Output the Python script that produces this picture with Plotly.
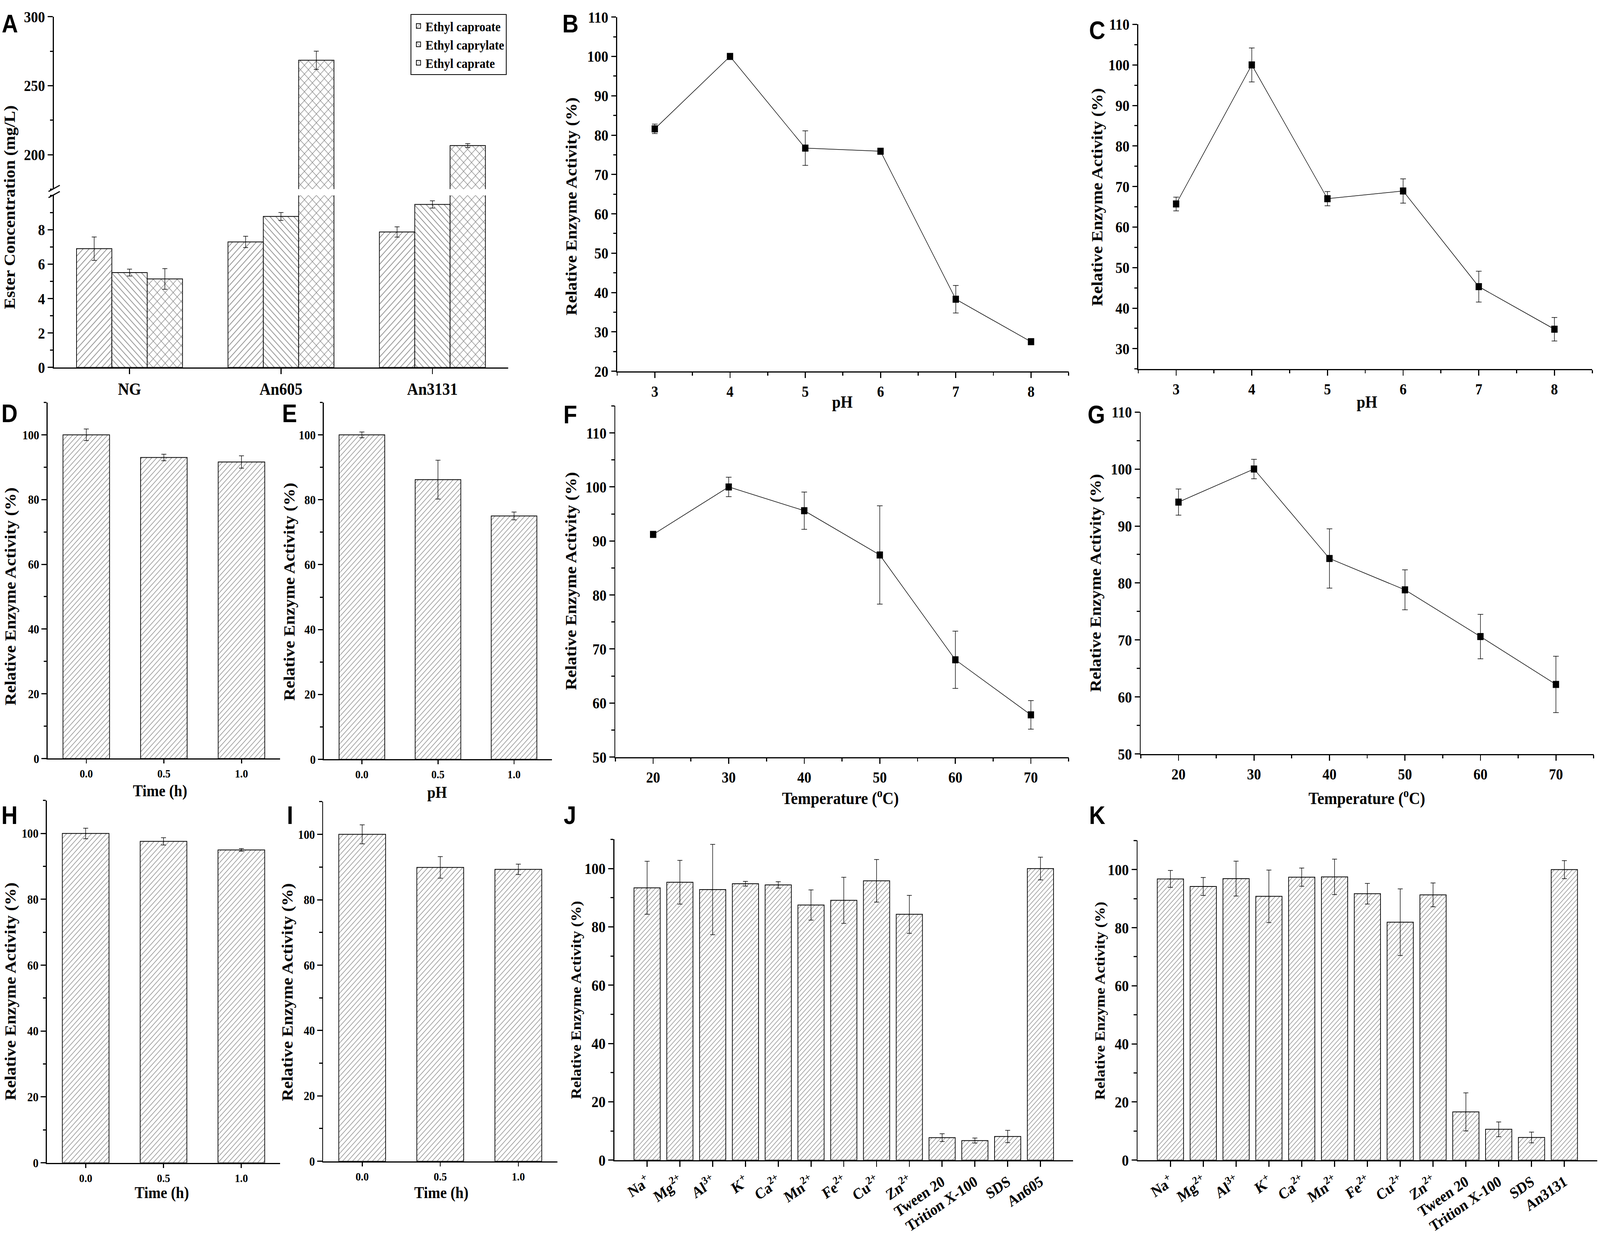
"""
Multi-panel figure: ester concentration and relative enzyme activity (A-K).
"""

import plotly.graph_objects as go

W, H = 4550, 3183
SERIF = "Liberation Serif"
SANS = "Liberation Sans"

# --- A: ester concentration (mg/L), broken y axis ---
a_groups = ["NG", "An605", "An3131"]
a_caproate = [6.90, 7.29, 7.87]
a_caproate_err = [0.68, 0.33, 0.30]
a_caprylate = [5.51, 8.77, 9.47]
a_caprylate_err = [0.20, 0.23, 0.21]
a_caprate = [5.14, 268.4, 206.6]
a_caprate_err = [0.60, 6.6, 1.4]
a_low_range = [0, 10]
a_high_range = [175, 300]

# --- B, C: pH profiles ---
ph = [3, 4, 5, 6, 7, 8]
b_act = [81.6, 100.0, 76.7, 75.9, 38.3, 27.5]
b_err = [1.2, 0.4, 4.4, 0.6, 3.5, 0.8]
c_act = [65.7, 100.0, 67.0, 68.9, 45.3, 34.8]
c_err = [1.7, 4.2, 1.75, 3.0, 3.8, 2.9]

# --- D, E, H, I: stability over time ---
time_labels = ["0.0", "0.5", "1.0"]
d_act = [100.0, 93.0, 91.6]
d_err = [1.8, 1.0, 1.9]
e_act = [100.0, 86.2, 75.0]
e_err = [0.9, 6.0, 1.2]
h_act = [100.0, 97.6, 95.0]
h_err = [1.6, 1.1, 0.4]
i_act = [100.0, 89.9, 89.3]
i_err = [2.9, 3.3, 1.6]

# --- F, G: temperature profiles ---
temp = [20, 30, 40, 50, 60, 70]
f_act = [91.2, 100.0, 95.6, 87.4, 68.0, 57.8]
f_err = [0.4, 1.8, 3.45, 9.1, 5.3, 2.65]
g_act = [94.2, 100.0, 84.3, 78.8, 70.6, 62.2]
g_err = [2.3, 1.7, 5.2, 3.5, 3.9, 4.95]

# --- J, K: metal ions and surfactants ---
effectors = ["Na<sup>+</sup>", "Mg<sup>2+</sup>", "Al<sup>3+</sup>", "K<sup>+</sup>",
             "Ca<sup>2+</sup>", "Mn<sup>2+</sup>", "Fe<sup>2+</sup>", "Cu<sup>2+</sup>",
             "Zn<sup>2+</sup>", "Tween 20", "Trition X-100", "SDS"]
j_labels = effectors + ["An605"]
j_act = [93.4, 95.3, 92.8, 94.8, 94.4, 87.5, 89.1, 95.8, 84.3, 7.7, 6.7, 8.1, 100.0]
j_err = [9.1, 7.5, 15.5, 0.8, 1.1, 5.2, 7.9, 7.3, 6.5, 1.35, 0.85, 2.1, 3.9]
k_labels = effectors + ["An3131"]
k_act = [96.8, 94.2, 96.9, 90.8, 97.4, 97.5, 91.7, 81.9, 91.3, 16.6, 10.6, 7.8, 100.0]
k_err = [2.9, 3.1, 6.0, 9.05, 3.15, 6.1, 3.55, 11.45, 4.1, 6.55, 2.55, 1.85, 3.1]

Y_TITLE = "Relative Enzyme Activity (%)"


def xdom(left, right):
    return [left / W, right / W]


def ydom(top, bottom):
    return [1 - bottom / H, 1 - top / H]


def axis_style(size, **kw):
    d = dict(showline=True, linecolor="black", linewidth=3, ticks="outside",
             ticklen=14, tickwidth=3, tickcolor="black", showgrid=False,
             zeroline=False, mirror=False,
             tickfont=dict(family=SERIF, size=size, color="black", weight="bold"))
    d.update(kw)
    return d


def minor(dtick):
    return dict(ticks="outside", ticklen=8, tickwidth=2.5, tickcolor="black",
                dtick=dtick, showgrid=False)


def hatched_bar(x, y, err, xa, ya, shape="/", size=10, width=None, name=None,
                showlegend=False):
    return go.Bar(
        x=x, y=y, xaxis=xa, yaxis=ya, width=width, name=name, showlegend=showlegend,
        marker=dict(color="white", line=dict(color="black", width=2),
                    pattern=dict(shape=shape, fgcolor="black", bgcolor="white",
                                 size=size, solidity=0.15)),
        error_y=dict(type="data", array=err, color="black", thickness=1.5, width=7),
    )


def line_points(x, y, err, xa, ya):
    return go.Scatter(
        x=x, y=y, xaxis=xa, yaxis=ya, mode="lines+markers", showlegend=False,
        line=dict(color="black", width=1.5),
        marker=dict(symbol="square", size=18, color="black"),
        error_y=dict(type="data", array=err, color="black", thickness=1.5, width=8),
    )


fig = go.Figure()
layout = {}
annotations = []

# ---------------- A ----------------
a_series = [
    ("Ethyl caproate", a_caproate, a_caproate_err, "/", 12),
    ("Ethyl caprylate", a_caprylate, a_caprylate_err, "\\", 12),
    ("Ethyl caprate", a_caprate, a_caprate_err, "x", 16),
]
for name, vals, errs, shape, size in a_series:
    low_err = [e if v <= a_low_range[1] else 0 for v, e in zip(vals, errs)]
    fig.add_trace(hatched_bar(a_groups, vals, low_err, "x", "y", shape, size,
                              name=name, showlegend=True))
for name, vals, errs, shape, size in a_series:
    high_vals = [v if v >= a_high_range[0] else None for v in vals]
    high_err = [e if v >= a_high_range[0] else 0 for v, e in zip(vals, errs)]
    fig.add_trace(hatched_bar(a_groups, high_vals, high_err, "x", "y12", shape, size,
                              name=name))

layout["xaxis"] = axis_style(44, domain=xdom(153, 1445), anchor="y", type="category",
                             range=[-0.5, 2.5])
layout["yaxis"] = axis_style(40, domain=ydom(485, 932), anchor="x", range=a_low_range,
                             tickvals=[0, 2, 4, 6, 8], minor=minor(1))
layout["yaxis12"] = axis_style(40, domain=ydom(21, 469), anchor="x", range=a_high_range,
                               tickvals=[200, 250, 300], minor=minor(25))

# ---------------- line panels B, C, F, G ----------------
line_panels = [
    (2, ph, b_act, b_err, (1755, 3039, 22, 942), [2.5, 8.5], 0.5, [20, 110], 10, 5),
    (3, ph, c_act, c_err, (3237, 4528, 41, 936), [2.5, 8.5], 0.5, [25, 110], 10, 5),
    (6, temp, f_act, f_err, (1750, 3039, 1032, 1944), [15, 75], 5, [50, 115], 10, 5),
    (7, temp, g_act, g_err, (3244, 4532, 1048, 1936), [15, 75], 5, [50, 110], 10, 5),
]
for idx, xs, ys, es, box, xr, xmn, yr, ydt, ymn in line_panels:
    l, r, t, b = box
    fig.add_trace(line_points(xs, ys, es, f"x{idx}", f"y{idx}"))
    layout[f"xaxis{idx}"] = axis_style(40, domain=xdom(l, r), anchor=f"y{idx}", range=xr,
                                       tickvals=xs, minor=minor(xmn))
    layout[f"yaxis{idx}"] = axis_style(40, domain=ydom(t, b), anchor=f"x{idx}", range=yr,
                                       dtick=ydt, minor=minor(ymn))

# ---------------- bar panels D, E, H, I ----------------
bar_panels = [
    (4, d_act, d_err, (135, 797, 1023, 1948)),
    (5, e_act, e_err, (921, 1570, 1023, 1950)),
    (8, h_act, h_err, (133, 797, 2057, 2998)),
    (9, i_act, i_err, (919, 1585, 2060, 2994)),
]
for idx, ys, es, box in bar_panels:
    l, r, t, b = box
    fig.add_trace(hatched_bar(time_labels, ys, es, f"x{idx}", f"y{idx}", "/", 10, width=0.6))
    layout[f"xaxis{idx}"] = axis_style(30, domain=xdom(l, r), anchor=f"y{idx}",
                                       type="category", range=[-0.5, 2.5], ticklen=10)
    layout[f"yaxis{idx}"] = axis_style(32, domain=ydom(t, b), anchor=f"x{idx}",
                                       range=[0, 110], tickvals=[0, 20, 40, 60, 80, 100],
                                       minor=minor(10))

# ---------------- bar panels J, K ----------------
effect_panels = [
    (10, j_labels, j_act, j_err, (1747, 3052, 2158, 2991)),
    (11, k_labels, k_act, k_err, (3235, 4542, 2161, 2991)),
]
for idx, labels, ys, es, box in effect_panels:
    l, r, t, b = box
    fig.add_trace(hatched_bar(labels, ys, es, f"x{idx}", f"y{idx}", "/", 9, width=0.8))
    layout[f"xaxis{idx}"] = axis_style(40, domain=xdom(l, r), anchor=f"y{idx}",
                                       type="category", range=[-1, 13], tickangle=-32)
    layout[f"yaxis{idx}"] = axis_style(40, domain=ydom(t, b), anchor=f"x{idx}",
                                       range=[0, 110], tickvals=[0, 20, 40, 60, 80, 100],
                                       minor=minor(10))


# ---------------- text ----------------
def text_at(txt, px, py, size, angle=0, family=SERIF):
    annotations.append(dict(text=txt, x=px / W, y=1 - py / H, xref="paper", yref="paper",
                            showarrow=False, xanchor="center", yanchor="middle",
                            textangle=angle,
                            font=dict(family=family, size=size, color="black",
                                      weight="bold")))


# panel letters
for letter, px, py in [("A", 28, 40), ("B", 1622, 40), ("C", 3120, 57),
                       ("D", 27, 1052), ("E", 823, 1052), ("F", 1621, 1055),
                       ("G", 3118, 1055), ("H", 27, 2096), ("I", 825, 2096),
                       ("J", 1621, 2096), ("K", 3120, 2096)]:
    text_at(letter, px, py, 64, family=SANS)

# y-axis titles
text_at("Ester Concentration (mg/L)", 28, 516, 44, -90)
for px, py in [(1625, 514), (3120, 490), (30, 1527), (823, 1515), (1624, 1487),
               (3116, 1492), (30, 2553), (818, 2555)]:
    text_at(Y_TITLE, px, py, 44, -90)
for px, py in [(1638, 2575), (3128, 2577)]:
    text_at(Y_TITLE, px, py, 40, -90)

# x-axis titles
text_at("pH", 2395, 1022, 44)
text_at("pH", 3887, 1022, 44)
text_at("Time (h)", 455, 2032, 42)
text_at("pH", 1243, 2036, 42)
text_at("Temperature (<sup>o</sup>C)", 2390, 2048, 44)
text_at("Temperature (<sup>o</sup>C)", 3887, 2048, 44)
text_at("Time (h)", 460, 3076, 42)
text_at("Time (h)", 1255, 3076, 42)

# axis break marks on panel A
shapes = []
for y0 in (475, 491):
    shapes.append(dict(type="line", xref="paper", yref="paper",
                       x0=138 / W, x1=170 / W, y0=1 - y0 / H, y1=1 - (y0 - 16) / H,
                       line=dict(color="black", width=3)))

fig.update_layout(
    width=W, height=H,
    margin=dict(l=0, r=0, t=0, b=0),
    paper_bgcolor="white", plot_bgcolor="white",
    barmode="group", bargap=0.3, bargroupgap=0,
    showlegend=True,
    legend=dict(x=1441 / W, y=1 - 14 / H, xanchor="right", yanchor="top",
                bgcolor="white", bordercolor="black", borderwidth=2,
                font=dict(family=SERIF, size=34, color="black", weight="bold"),
                itemsizing="constant", tracegroupgap=4),
    annotations=annotations,
    shapes=shapes,
    **layout,
)

# fit the fixed-size figure into whatever CSS viewport the browser reports
fit_script = """
var gd = document.getElementById('{plot_id}');
document.documentElement.style.margin = '0';
document.body.style.margin = '0';
document.body.style.overflow = 'hidden';
var sx = window.innerWidth / %d, sy = window.innerHeight / %d;
if (Math.abs(sx - 1) > 0.002 || Math.abs(sy - 1) > 0.002) {
    gd.style.transformOrigin = '0 0';
    gd.style.transform = 'scale(' + sx + ',' + sy + ')';
}
""" % (W, H)

fig.write_html("out.html", post_script=fit_script,
               config={"displayModeBar": False})
